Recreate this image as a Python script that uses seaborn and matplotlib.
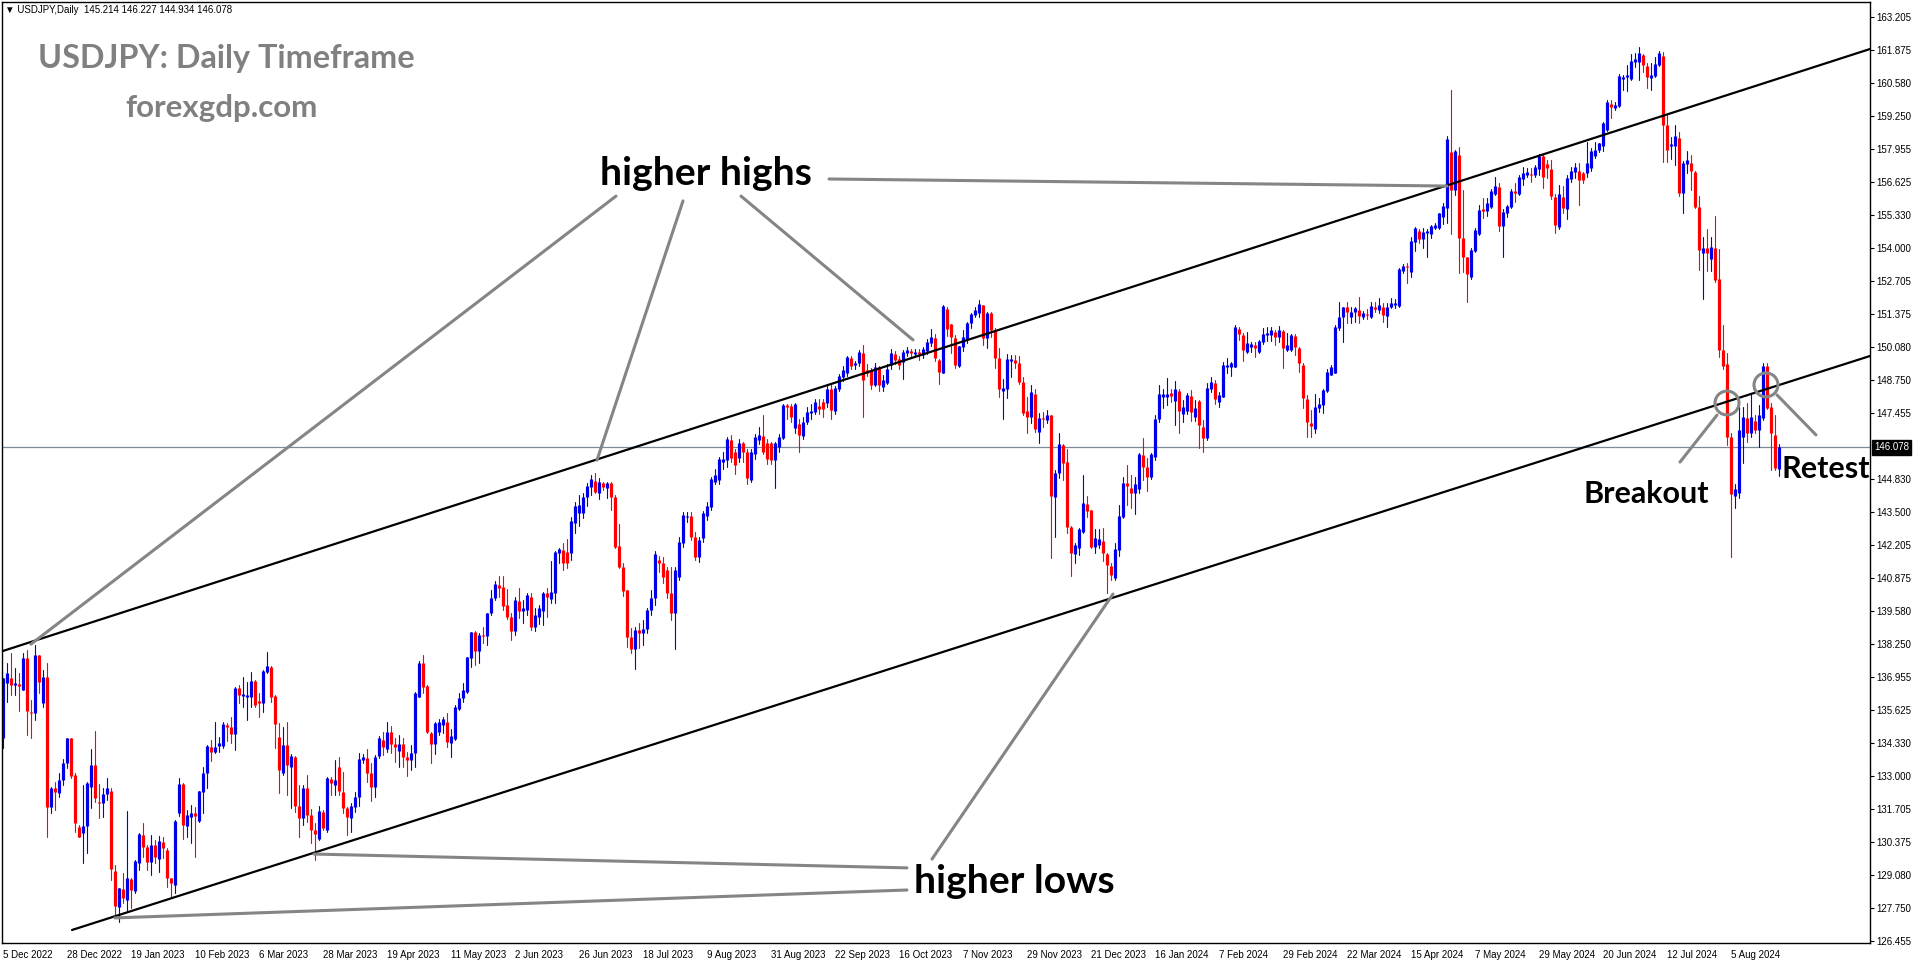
import numpy as np
import pandas as pd
import matplotlib
matplotlib.use("Agg")
import matplotlib.pyplot as plt
import matplotlib.transforms as mtransforms
from matplotlib.patches import Ellipse
import seaborn as sns

# ---------------- data ----------------
OPEN = [
    134.50, 136.69, 136.89, 136.62, 136.66, 136.43, 137.69, 135.56, 135.50, 137.82,
    135.92, 136.96, 131.76, 132.51, 132.34, 132.85, 133.51, 134.50, 133.05, 130.99,
    130.72, 131.02, 132.58, 133.44, 131.98, 131.92, 132.29, 132.42, 129.24, 127.81,
    128.50, 128.07, 128.90, 128.44, 129.53, 130.66, 130.19, 129.60, 130.26, 129.69,
    130.39, 130.06, 128.94, 128.67, 131.52, 132.69, 131.02, 131.36, 131.55, 131.23,
    132.38, 133.11, 134.17, 133.96, 134.20, 134.20, 135.03, 134.94, 134.68, 136.49,
    136.19, 136.16, 136.16, 136.78, 135.99, 135.92, 137.15, 137.35, 136.19, 134.57,
    133.14, 134.24, 133.38, 133.75, 131.81, 131.32, 132.54, 131.45, 130.84, 130.49,
    131.59, 130.86, 132.87, 132.65, 133.38, 132.38, 131.72, 131.32, 131.78, 132.16,
    133.64, 133.71, 133.14, 132.58, 133.80, 134.44, 134.07, 134.77, 134.26, 134.01,
    134.26, 133.77, 133.64, 133.93, 136.16, 137.51, 136.58, 134.73, 134.28, 134.77,
    135.03, 135.17, 134.30, 134.46, 135.65, 136.09, 136.36, 137.68, 138.75, 137.99,
    138.61, 138.57, 139.47, 140.07, 140.60, 140.51, 139.81, 139.34, 138.79, 139.98,
    139.58, 139.61, 140.14, 138.92, 139.32, 139.58, 140.27, 140.03, 140.27, 141.86,
    141.99, 141.93, 141.86, 143.08, 143.48, 143.48, 144.09, 144.49, 144.75, 144.27,
    144.67, 144.44, 144.67, 144.11, 142.15, 141.33, 140.40, 138.52, 138.05, 138.80,
    138.70, 138.85, 139.60, 140.10, 141.60, 141.46, 141.20, 140.27, 139.50, 140.93,
    142.26, 143.32, 143.35, 142.52, 141.73, 142.46, 143.35, 143.72, 144.71, 144.78,
    145.51, 145.57, 146.37, 145.91, 145.64, 146.24, 145.91, 144.78, 145.81, 146.37,
    146.53, 146.24, 146.24, 145.57, 146.08, 146.44, 147.76, 147.72, 146.83, 147.01,
    146.53, 147.10, 147.43, 147.50, 147.72, 147.89, 147.83, 148.38, 147.54, 148.38,
    148.89, 149.05, 149.62, 149.35, 149.42, 149.84, 149.15, 149.15, 148.56, 149.26,
    148.49, 148.62, 149.35, 149.79, 149.58, 149.48, 149.82, 149.92, 149.79, 149.88,
    149.75, 149.92, 150.21, 150.41, 149.55, 149.05, 151.57, 150.98, 150.41, 149.31,
    150.08, 150.37, 151.01, 151.34, 151.43, 151.74, 150.41, 151.43, 150.74, 149.62,
    148.33, 148.38, 149.53, 149.55, 149.45, 148.69, 147.53, 147.27, 148.20, 146.70,
    147.23, 147.16, 147.36, 144.11, 145.04, 146.17, 145.51, 142.92, 141.83, 142.06,
    142.72, 143.82, 143.58, 142.12, 142.19, 142.36, 141.83, 141.36, 140.87, 141.99,
    143.29, 144.65, 144.45, 144.25, 144.41, 145.77, 145.31, 144.88, 145.68, 147.19,
    148.07, 148.07, 148.23, 147.93, 148.33, 147.40, 147.53, 148.12, 147.27, 147.93,
    146.87, 146.44, 148.38, 148.65, 147.89, 148.09, 149.29, 149.29, 149.29, 150.77,
    150.54, 149.88, 150.08, 150.15, 149.88, 150.28, 150.54, 150.54, 150.68, 150.48,
    150.71, 149.95, 149.95, 150.50, 150.01, 149.35, 147.99, 147.03, 146.79, 147.63,
    147.76, 148.33, 148.95, 149.05, 150.81, 151.25, 151.65, 151.25, 151.47, 151.54,
    151.27, 151.38, 151.27, 151.67, 151.54, 151.67, 151.30, 151.65, 151.74, 151.70,
    153.10, 153.26, 153.06, 154.26, 154.69, 154.35, 154.61, 154.56, 154.79, 154.79,
    155.25, 155.58, 157.84, 156.31, 157.70, 154.39, 153.63, 152.87, 153.90, 154.56,
    155.54, 155.49, 155.65, 156.15, 156.44, 154.88, 155.41, 155.62, 156.29, 156.15,
    156.74, 156.91, 156.95, 156.91, 157.13, 157.66, 157.35, 157.13, 156.05, 154.85,
    156.02, 155.54, 156.74, 157.04, 157.08, 157.00, 157.00, 157.17, 157.66, 157.90,
    158.06, 158.70, 159.73, 159.56, 159.65, 160.71, 160.79, 160.71, 161.42, 161.42,
    161.68, 161.24, 160.75, 160.85, 161.28, 161.64, 158.90, 158.06, 158.06, 158.37,
    156.21, 157.35, 157.40, 157.04, 155.62, 153.79, 153.99, 153.55, 153.99, 152.76,
    149.95, 149.39, 146.50, 144.15, 144.25, 146.50, 147.23, 146.63, 147.14, 146.77,
    147.23, 149.31, 147.70, 146.57, 145.214,
]
HIGH = [
    136.89, 137.49, 137.88, 137.29, 137.09, 137.88, 138.02, 136.03, 138.22, 137.82,
    137.22, 137.49, 132.58, 132.78, 133.11, 133.67, 134.50, 134.50, 133.14, 131.06,
    132.65, 132.78, 134.07, 134.81, 132.67, 132.51, 132.91, 132.51, 129.47, 128.54,
    129.16, 131.63, 128.94, 129.66, 130.72, 131.12, 130.26, 130.66, 130.46, 130.62,
    130.59, 130.13, 128.94, 131.26, 132.91, 132.71, 131.65, 131.85, 131.78, 132.42,
    133.38, 134.22, 134.44, 135.17, 134.57, 135.17, 135.13, 135.37, 136.56, 136.62,
    136.96, 136.76, 137.15, 136.82, 136.29, 137.22, 137.95, 137.39, 136.23, 135.10,
    134.97, 135.17, 133.88, 133.80, 132.65, 132.65, 133.05, 131.68, 131.12, 131.81,
    131.65, 132.95, 132.98, 133.64, 133.77, 133.18, 131.78, 131.92, 132.38, 133.91,
    133.88, 134.07, 133.53, 133.84, 134.60, 134.77, 135.17, 134.99, 134.53, 134.64,
    134.50, 133.97, 134.24, 136.36, 137.58, 137.82, 136.62, 134.77, 135.17, 135.26,
    135.36, 135.50, 134.86, 135.83, 136.32, 136.69, 137.75, 138.75, 138.79, 138.68,
    138.92, 139.50, 140.40, 140.76, 140.96, 140.96, 140.43, 139.47, 140.11, 140.47,
    140.01, 140.27, 140.27, 139.67, 139.81, 140.34, 140.47, 141.56, 141.97, 142.06,
    142.26, 142.42, 143.29, 143.92, 144.18, 144.25, 144.64, 144.98, 145.07, 144.84,
    144.71, 144.71, 144.71, 144.18, 143.03, 141.46, 140.40, 138.90, 138.95, 139.10,
    139.20, 139.70, 140.40, 141.95, 141.75, 141.70, 141.30, 141.30, 141.30, 142.52,
    143.50, 143.52, 143.50, 142.70, 142.50, 143.55, 143.90, 144.90, 145.20, 145.70,
    145.90, 146.50, 146.55, 146.00, 146.40, 146.30, 146.00, 146.00, 146.60, 146.90,
    147.35, 146.40, 146.30, 146.30, 146.60, 147.80, 147.80, 147.80, 147.85, 147.20,
    147.30, 147.70, 147.80, 148.00, 148.00, 148.00, 148.50, 148.60, 148.50, 149.00,
    149.30, 149.70, 149.70, 149.50, 149.95, 150.16, 149.40, 149.25, 149.45, 149.30,
    148.95, 149.40, 150.00, 149.90, 149.70, 149.95, 150.05, 150.00, 150.00, 150.00,
    150.05, 150.40, 150.80, 150.60, 149.60, 151.74, 151.67, 151.00, 150.54, 150.11,
    150.74, 151.08, 151.43, 151.67, 151.94, 151.74, 151.47, 151.47, 150.81, 150.01,
    148.78, 149.79, 149.75, 149.75, 149.71, 148.89, 148.09, 148.56, 148.38, 147.43,
    147.50, 147.56, 147.36, 145.17, 146.63, 146.21, 146.00, 142.95, 142.26, 142.85,
    144.98, 144.14, 143.58, 142.82, 142.82, 142.85, 141.89, 141.46, 142.26, 143.78,
    144.91, 145.37, 144.98, 144.91, 145.86, 146.44, 145.64, 145.84, 147.36, 148.56,
    148.38, 148.82, 148.38, 148.73, 148.38, 147.96, 148.25, 148.36, 147.96, 147.96,
    147.16, 148.65, 148.89, 148.76, 148.29, 149.48, 149.62, 149.48, 150.94, 150.85,
    150.61, 150.68, 150.28, 150.28, 150.35, 150.81, 150.88, 150.88, 150.74, 150.90,
    150.74, 150.61, 150.58, 150.58, 150.08, 149.42, 148.16, 147.56, 148.20, 148.03,
    148.38, 149.18, 149.35, 150.94, 151.87, 151.67, 151.87, 151.67, 151.67, 152.04,
    151.51, 151.57, 151.87, 151.87, 152.00, 151.80, 151.80, 152.00, 151.96, 153.20,
    153.37, 153.40, 154.46, 154.85, 154.75, 154.79, 154.75, 154.92, 154.99, 155.41,
    155.78, 158.46, 160.29, 157.90, 158.01, 156.31, 153.66, 153.99, 154.79, 155.72,
    155.98, 155.98, 156.34, 156.84, 156.58, 155.54, 155.72, 156.34, 156.58, 156.91,
    157.21, 157.17, 157.17, 157.31, 157.74, 157.74, 157.51, 157.51, 156.15, 156.51,
    156.47, 156.91, 157.24, 157.37, 157.40, 157.04, 158.23, 157.97, 158.23, 158.20,
    159.03, 159.89, 159.89, 159.83, 160.93, 160.89, 161.28, 161.72, 161.78, 162.01,
    161.72, 161.35, 161.35, 161.59, 161.85, 161.81, 159.30, 158.43, 158.90, 158.63,
    157.48, 157.88, 157.70, 157.08, 156.07, 154.46, 154.75, 154.43, 155.28, 153.95,
    150.94, 149.82, 146.63, 144.60, 147.70, 147.70, 147.83, 148.23, 147.36, 147.76,
    149.42, 149.42, 147.83, 147.36, 146.227,
]
LOW = [
    134.11, 135.96, 136.23, 136.23, 135.60, 136.43, 134.64, 134.50, 135.23, 136.29,
    135.76, 130.59, 131.52, 131.65, 132.18, 132.65, 133.31, 132.91, 130.79, 130.59,
    129.53, 129.93, 131.72, 131.98, 131.32, 131.39, 132.05, 128.87, 127.48, 127.21,
    127.97, 127.65, 127.74, 128.37, 129.27, 129.80, 129.27, 129.07, 129.53, 129.20,
    129.73, 128.60, 128.21, 128.34, 131.40, 130.49, 130.59, 130.35, 129.80, 131.19,
    131.52, 132.51, 133.62, 133.91, 133.97, 134.11, 134.41, 134.33, 134.04, 135.89,
    135.74, 135.23, 135.76, 135.76, 135.37, 135.56, 137.11, 135.96, 134.11, 132.32,
    133.05, 132.25, 131.72, 131.59, 130.59, 131.06, 131.19, 130.33, 129.66, 130.46,
    130.86, 130.79, 132.25, 132.25, 132.25, 131.55, 130.66, 130.79, 131.56, 131.81,
    133.51, 132.78, 132.02, 132.18, 133.71, 133.84, 133.97, 133.91, 133.58, 133.38,
    133.38, 133.00, 133.24, 133.38, 136.16, 136.29, 134.73, 133.51, 133.88, 134.63,
    134.70, 134.15, 133.75, 134.44, 135.63, 135.96, 136.29, 137.33, 137.42, 137.51,
    138.28, 138.21, 139.41, 140.00, 140.14, 139.61, 139.24, 138.41, 138.61, 139.28,
    139.10, 139.41, 138.81, 138.79, 139.05, 139.01, 139.31, 139.87, 139.87, 141.46,
    141.20, 141.29, 141.60, 142.68, 142.95, 143.25, 143.74, 144.18, 144.25, 144.01,
    144.38, 144.05, 143.58, 142.06, 141.26, 140.16, 138.15, 137.90, 137.25, 138.10,
    138.20, 138.70, 139.40, 139.80, 141.10, 140.70, 140.10, 139.20, 138.05, 140.80,
    142.10, 143.12, 142.40, 141.60, 141.50, 142.30, 143.20, 143.60, 144.60, 144.60,
    145.20, 145.30, 145.50, 145.00, 145.50, 145.50, 144.60, 144.70, 145.60, 146.20,
    145.80, 145.40, 145.40, 144.45, 145.90, 146.40, 147.20, 147.10, 146.63, 145.90,
    146.40, 147.00, 147.20, 147.40, 147.40, 147.30, 147.70, 147.20, 147.40, 148.30,
    148.70, 148.90, 149.20, 149.20, 149.30, 147.30, 148.90, 148.40, 148.50, 148.30,
    148.30, 148.60, 149.20, 149.40, 149.20, 148.80, 149.70, 149.70, 149.70, 149.55,
    149.65, 149.80, 150.10, 149.50, 148.60, 149.03, 150.51, 149.84, 149.22, 149.29,
    149.92, 150.24, 150.81, 151.25, 151.25, 150.15, 150.01, 150.45, 149.22, 148.09,
    147.19, 148.03, 148.89, 149.22, 148.60, 147.36, 146.66, 147.03, 146.70, 146.24,
    146.90, 147.03, 141.66, 142.52, 144.84, 144.78, 142.66, 140.96, 141.46, 141.79,
    142.66, 143.32, 142.06, 141.89, 142.06, 141.57, 140.27, 140.80, 140.80, 141.76,
    143.25, 143.78, 143.65, 143.43, 144.27, 144.78, 144.35, 144.80, 145.57, 147.10,
    147.63, 147.76, 147.89, 146.97, 146.66, 147.10, 147.40, 147.14, 147.14, 146.04,
    145.90, 146.37, 148.29, 147.80, 147.67, 148.07, 149.02, 148.91, 149.26, 150.35,
    149.52, 149.82, 149.88, 149.68, 149.84, 150.19, 150.32, 150.32, 150.15, 150.28,
    149.22, 149.92, 149.92, 149.75, 149.09, 147.63, 146.50, 146.50, 146.63, 147.50,
    147.46, 148.29, 148.95, 149.02, 150.74, 150.28, 151.01, 151.03, 151.07, 151.03,
    151.17, 151.17, 151.21, 151.47, 151.43, 151.07, 150.85, 151.61, 151.61, 151.67,
    153.03, 152.60, 152.84, 153.90, 154.19, 153.99, 153.63, 154.39, 154.75, 154.75,
    154.96, 154.99, 154.56, 156.11, 153.02, 153.06, 151.87, 152.76, 153.86, 154.52,
    155.19, 155.28, 155.58, 156.11, 154.69, 153.63, 155.25, 155.58, 155.85, 156.11,
    156.51, 156.82, 156.64, 156.84, 156.91, 156.38, 156.78, 155.94, 154.59, 154.75,
    155.38, 155.15, 156.64, 156.78, 155.72, 156.58, 156.84, 157.08, 157.57, 157.84,
    157.88, 158.67, 159.16, 159.49, 159.63, 160.29, 160.26, 160.69, 161.22, 160.69,
    161.02, 160.36, 160.29, 160.79, 161.24, 157.44, 157.44, 157.53, 157.31, 156.07,
    155.38, 156.98, 156.31, 155.58, 153.13, 151.96, 153.10, 153.10, 152.67, 149.68,
    149.18, 146.17, 141.71, 143.65, 144.05, 145.44, 146.30, 146.50, 146.66, 146.10,
    147.16, 147.59, 145.17, 145.17, 144.934,
]
CLOSE = [
    136.89, 137.09, 136.62, 136.69, 136.60, 137.69, 135.60, 135.50, 137.82, 136.76,
    136.96, 131.76, 132.51, 132.38, 132.85, 133.54, 134.50, 133.01, 131.12, 130.59,
    131.02, 132.71, 133.44, 132.12, 131.92, 132.29, 132.51, 129.29, 127.83, 128.54,
    128.14, 128.94, 128.47, 129.64, 130.70, 130.19, 129.60, 130.26, 129.80, 130.43,
    130.13, 128.94, 128.74, 131.23, 132.69, 131.06, 131.45, 131.52, 131.41, 132.42,
    133.11, 134.20, 133.97, 134.17, 134.30, 135.07, 134.94, 134.68, 136.52, 136.23,
    136.27, 136.23, 136.78, 135.83, 135.92, 137.18, 137.39, 136.16, 135.07, 133.24,
    134.24, 133.44, 133.80, 131.81, 131.32, 132.51, 131.45, 130.86, 130.70, 131.63,
    130.92, 132.91, 132.71, 132.85, 132.42, 131.72, 131.36, 131.81, 132.18, 133.67,
    133.75, 133.14, 132.58, 133.77, 134.50, 134.15, 134.77, 134.28, 134.17, 134.28,
    133.77, 133.64, 133.91, 136.32, 137.51, 136.56, 134.77, 134.28, 135.10, 135.17,
    135.26, 134.37, 134.60, 135.76, 136.09, 136.43, 137.75, 138.75, 137.99, 138.61,
    138.58, 139.50, 140.07, 140.64, 140.47, 139.77, 139.34, 138.79, 140.01, 139.58,
    139.67, 140.20, 138.92, 139.41, 139.67, 140.27, 140.11, 140.34, 141.93, 142.02,
    141.46, 141.46, 143.16, 143.74, 143.78, 144.12, 144.54, 144.80, 144.31, 144.71,
    144.48, 144.67, 144.11, 142.13, 141.33, 140.38, 138.52, 138.05, 138.80, 138.70,
    138.85, 139.60, 140.10, 141.85, 141.46, 140.93, 140.27, 139.50, 141.20, 142.32,
    143.39, 143.35, 142.52, 141.73, 142.40, 143.45, 143.74, 144.80, 144.98, 145.60,
    145.60, 146.40, 145.64, 145.37, 146.24, 145.91, 144.84, 145.91, 146.50, 146.57,
    145.91, 145.60, 145.57, 146.24, 146.50, 147.76, 147.69, 147.30, 147.80, 146.57,
    147.10, 147.50, 147.54, 147.89, 147.59, 147.59, 148.38, 147.56, 148.42, 148.91,
    149.15, 149.66, 149.31, 149.42, 149.88, 148.75, 149.05, 148.56, 149.26, 148.56,
    148.75, 149.18, 149.84, 149.55, 149.35, 149.88, 149.95, 149.82, 149.88, 149.79,
    149.98, 150.28, 150.45, 149.62, 149.09, 151.70, 150.77, 150.45, 149.35, 150.11,
    150.45, 151.01, 151.38, 151.54, 151.78, 150.41, 151.43, 150.74, 149.62, 148.38,
    148.42, 149.58, 149.58, 149.45, 148.69, 147.46, 147.27, 148.29, 146.79, 147.23,
    147.19, 147.36, 144.14, 145.04, 146.21, 145.47, 142.92, 141.89, 142.19, 142.81,
    143.85, 143.55, 142.12, 142.46, 142.42, 141.86, 141.40, 141.00, 142.02, 143.35,
    144.65, 144.54, 144.25, 144.62, 145.81, 145.31, 144.91, 145.81, 147.19, 148.20,
    148.20, 148.20, 148.12, 148.38, 147.53, 147.67, 148.16, 147.50, 147.63, 146.97,
    146.44, 148.42, 148.69, 147.98, 148.16, 149.35, 149.35, 149.42, 150.88, 150.58,
    149.95, 150.24, 150.19, 150.01, 150.32, 150.58, 150.61, 150.74, 150.48, 150.74,
    150.01, 150.15, 150.54, 150.08, 149.42, 148.03, 147.10, 146.93, 147.67, 147.80,
    148.36, 149.09, 149.29, 150.88, 151.25, 151.67, 151.47, 151.47, 151.60, 151.30,
    151.41, 151.34, 151.70, 151.57, 151.74, 151.34, 151.65, 151.83, 151.80, 153.16,
    153.29, 153.24, 154.30, 154.79, 154.35, 154.65, 154.69, 154.88, 154.91, 155.38,
    155.68, 158.33, 156.31, 157.88, 154.39, 153.66, 152.97, 153.93, 154.72, 155.52,
    155.49, 155.81, 156.29, 156.47, 154.88, 155.45, 155.68, 156.29, 156.21, 156.84,
    157.00, 157.04, 156.91, 157.21, 157.66, 156.82, 157.17, 156.07, 154.92, 156.15,
    155.58, 156.78, 157.08, 157.24, 156.71, 156.71, 157.40, 157.88, 157.90, 158.17,
    158.96, 159.83, 159.60, 159.69, 160.85, 160.82, 160.89, 161.46, 161.51, 161.78,
    161.28, 160.79, 160.89, 161.32, 161.75, 158.90, 157.90, 158.14, 158.46, 156.21,
    157.37, 157.51, 157.08, 155.62, 153.93, 153.99, 153.79, 154.06, 152.73, 149.95,
    149.31, 146.50, 144.22, 144.40, 146.77, 147.30, 146.63, 147.30, 146.77, 147.36,
    149.31, 147.63, 146.63, 145.24, 146.078,
]

DATE_LABELS = ["5 Dec 2022", "28 Dec 2022", "19 Jan 2023", "10 Feb 2023", "6 Mar 2023",
               "28 Mar 2023", "19 Apr 2023", "11 May 2023", "2 Jun 2023", "26 Jun 2023",
               "18 Jul 2023", "9 Aug 2023", "31 Aug 2023", "22 Sep 2023", "16 Oct 2023",
               "7 Nov 2023", "29 Nov 2023", "21 Dec 2023", "16 Jan 2024", "7 Feb 2024",
               "29 Feb 2024", "22 Mar 2024", "15 Apr 2024", "7 May 2024", "29 May 2024",
               "20 Jun 2024", "12 Jul 2024", "5 Aug 2024"]
BARS_PER_LABEL = 16
PRICE_TICKS = [163.205, 161.875, 160.580, 159.250, 157.955, 156.625, 155.330, 154.000,
               152.705, 151.375, 150.080, 148.750, 147.455, 144.830, 143.500, 142.205,
               140.875, 139.580, 138.250, 136.955, 135.625, 134.330, 133.000, 131.705,
               130.375, 129.080, 127.750, 126.455]
LAST_PRICE = 146.078
HEADER = "\u25BC USDJPY,Daily  145.214 146.227 144.934 146.078"
TITLE = "USDJPY: Daily Timeframe"
SUBTITLE = "forexgdp.com"

# channel lines (bar index, price)
UPPER_CHANNEL = ([-0.75, 466.75], [137.94, 161.92])
LOWER_CHANNEL = ([17.25, 466.75], [126.88, 149.71])
# pointer lines ((bar, price), (bar, price))
HH_POINTERS = [((153.25, 156.07), (7.0, 138.25)),
               ((170.0, 155.88), (148.5, 145.57)),
               ((184.5, 156.07), (227.5, 150.35)),
               ((206.5, 156.75), (361.0, 156.47))]
HL_POINTERS = [((232.25, 129.70), (277.5, 140.24)),
               ((226.0, 129.35), (77.75, 129.90)),
               ((226.0, 128.47), (28.0, 127.36))]
BREAKOUT_POINTER = ((428.5, 147.36), (419.25, 145.49))
RETEST_POINTER = ((443.5, 148.16), (453.25, 146.57))
CIRCLES = [(431.0, 147.84), (440.75, 148.56)]
LABELS = [("higher highs", 149.25, 156.51, 28.2),
          ("higher lows", 227.75, 128.35, 28.2),
          ("Breakout", 395.0, 143.86, 22),
          ("Retest", 444.75, 144.86, 22)]

# ---------------- style ----------------
sns.set_style("white")
plt.rcParams["font.family"] = ["Liberation Sans", "DejaVu Sans"]

W, H = 1916, 964
fig = plt.figure(figsize=(W / 100, H / 100), dpi=100)
ax = fig.add_axes([2 / W, (H - 943.3) / H, 1868 / W, 941.3 / H])

BULL, BEAR = "#0000E6", "#FF0000"
o, h, l, c = map(np.asarray, (OPEN, HIGH, LOW, CLOSE))
n = len(c)
idx = np.arange(n)
direction = np.where(c >= o, "bull", "bear")

wicks = pd.DataFrame({
    "bar": np.repeat(idx, 2),
    "price": np.column_stack([l, h]).ravel(),
    "dir": np.repeat(direction, 2),
})
lo = np.minimum(o, c)
hi = np.maximum(np.maximum(o, c), lo + 0.035)
bodies = pd.DataFrame({
    "bar": np.repeat(idx, 2),
    "price": np.column_stack([lo, hi]).ravel(),
    "dir": np.repeat(direction, 2),
})
pal = {"bull": BULL, "bear": BEAR}

ax.axhline(LAST_PRICE, color="#7a8a99", lw=0.9, zorder=1)

sns.lineplot(data=wicks, x="bar", y="price", units="bar", estimator=None, hue="dir",
             palette=pal, sort=False, legend=False, linewidth=0.8, ax=ax, zorder=2)
sns.lineplot(data=bodies, x="bar", y="price", units="bar", estimator=None, hue="dir",
             palette=pal, sort=False, legend=False, linewidth=2.3, ax=ax, zorder=2,
             solid_capstyle="butt")

# channel lines
for xs, ys in (UPPER_CHANNEL, LOWER_CHANNEL):
    sns.lineplot(x=xs, y=ys, color="black", linewidth=1.6, ax=ax, zorder=4, sort=False)

# pointer lines
GRAY = "#858585"
for (a, b) in HH_POINTERS + HL_POINTERS + [BREAKOUT_POINTER, RETEST_POINTER]:
    sns.lineplot(x=[a[0], b[0]], y=[a[1], b[1]], color=GRAY, linewidth=2.2, ax=ax,
                 zorder=4, sort=False)

for cx, cy in CIRCLES:
    ax.add_patch(Ellipse((cx, cy), width=6.0, height=0.95, fill=False,
                         edgecolor=GRAY, linewidth=2.2, zorder=5))

for text, bx, by, size in LABELS:
    ax.text(bx, by, text, fontfamily="Lato", fontweight="bold", fontsize=size,
            color="black", ha="left", va="baseline", zorder=6, clip_on=False)

# axes
ax.set_xlim(-0.25, 466.75)
ax.set_ylim(126.35, 163.79)
ax.set_xlabel("")
ax.set_ylabel("")
ax.yaxis.tick_right()
ax.set_yticks(PRICE_TICKS)
ax.set_yticklabels([f"{v:.3f}" for v in PRICE_TICKS])
ax.set_xticks(np.arange(len(DATE_LABELS)) * BARS_PER_LABEL)
ax.set_xticklabels(DATE_LABELS, ha="left")
ax.tick_params(axis="y", which="both", left=False, right=True, direction="out",
               length=3, width=0.8, pad=1.5, labelsize=7.0, colors="black")
ax.tick_params(axis="x", direction="out", length=3.5, width=0.8, pad=1.2,
               labelsize=7.0, colors="black")
for sp in ax.spines.values():
    sp.set_visible(True)
    sp.set_color("black")
    sp.set_linewidth(1.0)
ax.grid(False)

# last price tag
trans = mtransforms.blended_transform_factory(ax.transAxes, ax.transData)
ax.text(1.0 + 4 / 1868, LAST_PRICE, f"{LAST_PRICE:.3f}", transform=trans, ha="left",
        va="center", fontsize=7.0, color="white", clip_on=False, zorder=10,
        bbox=dict(boxstyle="square,pad=0.25", fc="black", ec="black"))

# header / titles
fig.text(5 / W, 1 - 13 / H, HEADER, fontsize=7.0, color="black", ha="left",
         va="baseline")
fig.text(38 / W, 1 - 68 / H, TITLE, fontfamily="Lato", fontweight="bold",
         fontsize=23.3, color="#808080", ha="left", va="baseline")
fig.text(125 / W, 1 - 117 / H, SUBTITLE, fontfamily="Lato", fontweight="bold",
         fontsize=22.5, color="#808080", ha="left", va="baseline")

fig.savefig("out.png", dpi=100)
